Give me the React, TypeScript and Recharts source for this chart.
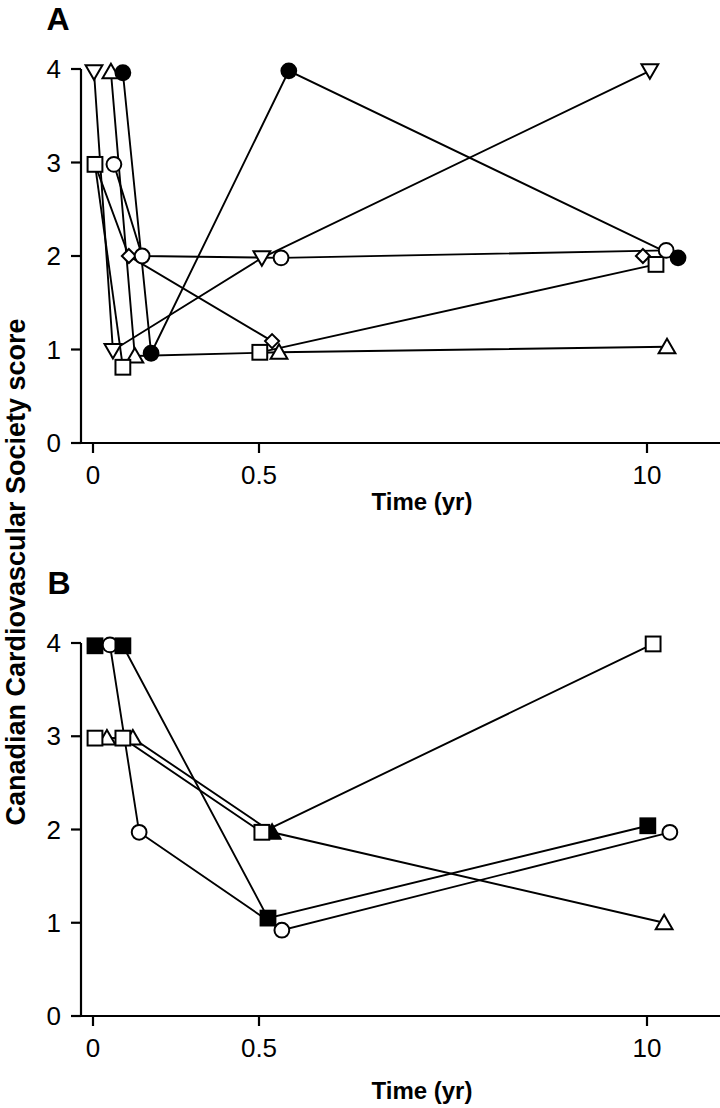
import React from 'react';
import { LineChart, Line, XAxis, YAxis } from 'recharts';

// Panel A: time points (yr) and CCS scores per patient
const A_DOWN_TRI_YR = [0.003, 0.06, 0.57, 10.07];
const A_DOWN_TRI_CCS = [3.97, 0.99, 1.98, 3.98];
const A_UP_TRI_YR = [0.054, 0.126, 0.99, 10.49];
const A_UP_TRI_CCS = [3.97, 0.93, 0.97, 1.03];
const A_DOT_YR = [0.09, 0.175, 1.23, 10.76];
const A_DOT_CCS = [3.96, 0.96, 3.98, 1.98];
const A_SQUARE_YR = [0.006, 0.09, 0.52, 10.22];
const A_SQUARE_CCS = [2.98, 0.81, 0.97, 1.91];
const A_DIAMOND_YR = [0.006, 0.108, 0.82, 9.9];
const A_DIAMOND_CCS = [2.98, 2.0, 1.09, 2.0];
const A_CIRCLE_YR = [0.063, 0.148, 1.04, 10.47];
const A_CIRCLE_CCS = [2.98, 2.0, 1.98, 2.06];

// Panel B
const B_FSQUARE_YR = [0.006, 0.09, 0.72, 10.02];
const B_FSQUARE_CCS = [3.97, 3.97, 1.05, 2.04];
const B_CIRCLE_YR = [0.051, 0.139, 1.06, 10.56];
const B_CIRCLE_CCS = [3.98, 1.97, 0.92, 1.97];
const B_SQUARE_YR = [0.006, 0.09, 0.57, 10.15];
const B_SQUARE_CCS = [2.98, 2.98, 1.97, 3.99];
const B_TRI_YR = [0.042, 0.12, 0.82, 10.42];
const B_TRI_CCS = [2.98, 2.98, 1.97, 1.0];

const X_TICKS_YR = [0, 0.5, 10];
const Y_TICKS = [0, 1, 2, 3, 4];

const FONT = "'Liberation Sans', Arial, sans-serif";

// broken time axis: 0-0.5 yr stretched, 0.5-10 yr compressed
const pos = (t: number) => (t <= 0.5 ? t * 332 : 166 + (t - 0.5) * (388 / 9.5));
const yrLabel = (p: number) => {
  const hit = X_TICKS_YR.find((t) => Math.abs(pos(t) - p) < 0.5);
  return hit === undefined ? '' : String(hit);
};

type MarkKind = 'circle' | 'dot' | 'square' | 'fsquare' | 'tri' | 'ftri' | 'vtri' | 'diamond' | 'none';

interface Series {
  id: string;
  yrs: number[];
  ccs: number[];
  marks: MarkKind[];
  gaps?: number[]; // no line drawn between point i and i+1
}

const rep = (k: MarkKind): MarkKind[] => [k, k, k, k];

const panelA: Series[] = [
  { id: 'dia', yrs: A_DIAMOND_YR, ccs: A_DIAMOND_CCS, marks: ['none', 'diamond', 'diamond', 'diamond'], gaps: [2] },
  { id: 'up', yrs: A_UP_TRI_YR, ccs: A_UP_TRI_CCS, marks: rep('tri') },
  { id: 'down', yrs: A_DOWN_TRI_YR, ccs: A_DOWN_TRI_CCS, marks: rep('vtri') },
  { id: 'sq', yrs: A_SQUARE_YR, ccs: A_SQUARE_CCS, marks: rep('square'), gaps: [1] },
  { id: 'circ', yrs: A_CIRCLE_YR, ccs: A_CIRCLE_CCS, marks: rep('circle') },
  { id: 'dot', yrs: A_DOT_YR, ccs: A_DOT_CCS, marks: rep('dot') },
];

const panelB: Series[] = [
  { id: 'tri', yrs: B_TRI_YR, ccs: B_TRI_CCS, marks: ['tri', 'tri', 'ftri', 'tri'] },
  { id: 'sq', yrs: B_SQUARE_YR, ccs: B_SQUARE_CCS, marks: rep('square') },
  { id: 'circ', yrs: B_CIRCLE_YR, ccs: B_CIRCLE_CCS, marks: rep('circle') },
  { id: 'fsq', yrs: B_FSQUARE_YR, ccs: B_FSQUARE_CCS, marks: rep('fsquare') },
];

const Mark = ({ cx, cy, kind }: { cx: number; cy: number; kind: MarkKind }) => {
  const sw = 2;
  const open = { fill: '#fff', stroke: '#000', strokeWidth: sw };
  const solid = { fill: '#000', stroke: '#000', strokeWidth: sw };
  switch (kind) {
    case 'circle':
      return <circle cx={cx} cy={cy} r={7.4} {...open} />;
    case 'dot':
      return <circle cx={cx} cy={cy} r={7.4} {...solid} />;
    case 'square':
      return <rect x={cx - 7.4} y={cy - 7.4} width={14.8} height={14.8} {...open} />;
    case 'fsquare':
      return <rect x={cx - 7.4} y={cy - 7.4} width={14.8} height={14.8} {...solid} />;
    case 'tri':
      return <polygon points={`${cx},${cy - 8} ${cx + 8.4},${cy + 6.5} ${cx - 8.4},${cy + 6.5}`} {...open} />;
    case 'ftri':
      return <polygon points={`${cx},${cy - 8} ${cx + 8.4},${cy + 6.5} ${cx - 8.4},${cy + 6.5}`} {...solid} />;
    case 'vtri':
      return <polygon points={`${cx},${cy + 8} ${cx + 8.4},${cy - 6.5} ${cx - 8.4},${cy - 6.5}`} {...open} />;
    case 'diamond':
      return <polygon points={`${cx},${cy - 7} ${cx + 7},${cy} ${cx},${cy + 7} ${cx - 7},${cy}`} {...open} />;
    default:
      return <g />;
  }
};

const rows = (s: Series) =>
  s.yrs.map((t, i) => ({ x: pos(t), y: s.ccs[i], mark: s.marks[i] }));

// split a series into the runs of points that are joined by line segments
const segments = (s: Series) => {
  const all = rows(s);
  const out: (typeof all)[] = [];
  let cur = [all[0]];
  for (let i = 1; i < all.length; i++) {
    if (s.gaps && s.gaps.includes(i - 1)) {
      out.push(cur);
      cur = [all[i]];
    } else {
      cur.push(all[i]);
    }
  }
  out.push(cur);
  return out.filter((seg) => seg.length > 1);
};

const axisStyle = { stroke: '#000', strokeWidth: 2.2 };

interface PanelProps {
  series: Series[];
  top: number;
  height: number;
  marginTop: number;
  marginBottom: number;
}

const Panel = ({ series, top, height, marginTop, marginBottom }: PanelProps) => (
  <div style={{ position: 'absolute', left: 0, top }}>
    <LineChart width={720} height={height} margin={{ top: marginTop, right: 0, bottom: marginBottom, left: 0 }}>
      <XAxis
        type="number"
        dataKey="x"
        domain={[-12, 627]}
        ticks={X_TICKS_YR.map(pos)}
        tickFormatter={yrLabel}
        axisLine={axisStyle}
        tickLine={axisStyle}
        tickSize={10}
        tickMargin={13}
        height={60}
        tick={{ fill: '#000', fontSize: 26, fontFamily: FONT }}
        allowDuplicatedCategory={false}
      />
      <YAxis
        type="number"
        domain={[0, 4]}
        ticks={Y_TICKS}
        width={81}
        axisLine={axisStyle}
        tickLine={axisStyle}
        tickSize={10}
        tickMargin={10}
        tick={{ fill: '#000', fontSize: 26, fontFamily: FONT }}
      />
      {series.flatMap((s) =>
        segments(s).map((seg, j) => (
          <Line
            key={`path-${s.id}-${j}`}
            data={seg}
            dataKey="y"
            type="linear"
            stroke="#000"
            strokeWidth={1.9}
            dot={false}
            activeDot={false}
            isAnimationActive={false}
          />
        ))
      )}
      {series.map((s) => (
        <Line
          key={`marks-${s.id}`}
          data={rows(s)}
          dataKey="y"
          type="linear"
          stroke="none"
          activeDot={false}
          isAnimationActive={false}
          dot={(p: any) => (
            <Mark key={`${s.id}-${p.index}`} cx={p.cx} cy={p.cy} kind={p.payload.mark} />
          )}
        />
      ))}
    </LineChart>
  </div>
);

export default function App() {
  return (
    <div style={{ position: 'absolute', left: 0, top: 0, width: 720, height: 1108, background: '#fff' }}>
      <Panel series={panelA} top={0} height={540} marginTop={69} marginBottom={37} />
      <Panel series={panelB} top={560} height={548} marginTop={83} marginBottom={32} />
      <svg
        width={720}
        height={1108}
        style={{ position: 'absolute', left: 0, top: 0, pointerEvents: 'none' }}
        fontFamily={FONT}
      >
        <text x={58} y={30} textAnchor="middle" fontSize={32} fontWeight="bold">A</text>
        <text x={59} y={594} textAnchor="middle" fontSize={32} fontWeight="bold">B</text>
        <text x={422} y={510} textAnchor="middle" fontSize={24} fontWeight="bold">Time (yr)</text>
        <text x={422} y={1099} textAnchor="middle" fontSize={24} fontWeight="bold">Time (yr)</text>
        <text
          x={25}
          y={572}
          textAnchor="middle"
          fontSize={27}
          fontWeight="bold"
          transform="rotate(-90, 25, 572)"
        >
          Canadian Cardiovascular Society score
        </text>
      </svg>
    </div>
  );
}
